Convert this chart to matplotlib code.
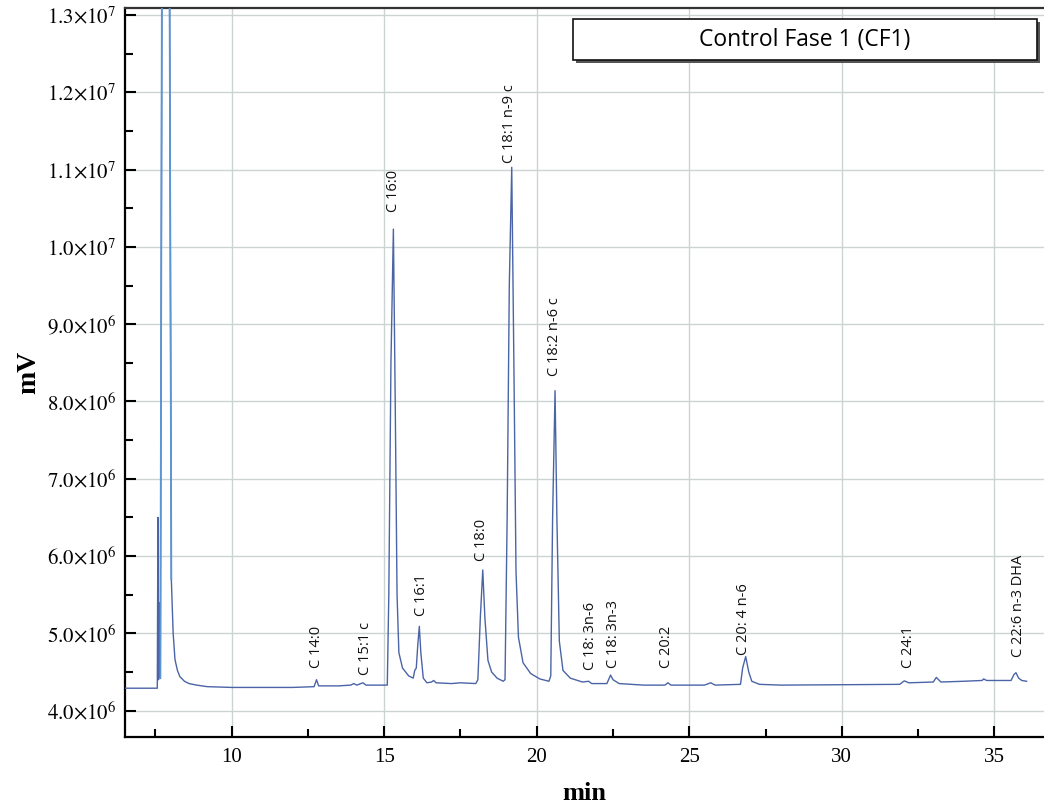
import numpy as np
import matplotlib
matplotlib.use('Agg')
import matplotlib.pyplot as plt
from matplotlib.ticker import FuncFormatter, MultipleLocator
from matplotlib.patches import Rectangle

# chromatogram trace (time in min, signal in 1e6 mV)
t_trace = [6.5, 7.56, 7.58, 7.60, 7.61, 7.63, 7.66, 7.72, 7.95,
           8.02, 8.08, 8.14, 8.22, 8.30, 8.45, 8.60, 8.85, 9.2, 10.0, 12.0,
           12.7, 12.78, 12.85, 13.5, 13.9, 14.0, 14.1, 14.3, 14.4, 15.1,
           15.15, 15.22, 15.30, 15.36, 15.42, 15.48, 15.6, 15.8, 15.95,
           16.0, 16.05, 16.10, 16.15, 16.20, 16.28, 16.4, 16.55, 16.62, 16.7,
           17.2, 17.5, 18.0, 18.07, 18.15, 18.23, 18.30, 18.40, 18.52, 18.7,
           18.9, 18.96, 19.03, 19.10, 19.18, 19.25, 19.32, 19.40, 19.55,
           19.8, 20.1, 20.4, 20.46, 20.52, 20.60, 20.66, 20.74, 20.86, 21.1,
           21.5, 21.7, 21.8, 22.3, 22.42, 22.5, 22.7, 23.5, 24.2, 24.3, 24.4,
           25.5, 25.7, 25.85, 26.68, 26.75, 26.85, 26.95, 27.05, 27.3, 28.0,
           31.9, 32.05, 32.2, 33.0, 33.1, 33.25, 34.0, 34.6, 34.65, 34.75,
           35.55, 35.65, 35.71, 35.8, 35.9, 36.06]
v_trace = [4.29, 4.29, 6.50, 4.40, 5.40, 4.45, 4.42, 15.0, 15.0,
           5.70, 5.00, 4.66, 4.52, 4.44, 4.38, 4.35, 4.33, 4.31, 4.30, 4.30,
           4.31, 4.40, 4.32, 4.32, 4.33, 4.35, 4.33, 4.36, 4.33, 4.33,
           5.50, 8.50, 10.23, 8.00, 5.50, 4.75, 4.55, 4.45, 4.42,
           4.52, 4.55, 4.85, 5.09, 4.75, 4.42, 4.36, 4.37, 4.39, 4.36,
           4.35, 4.36, 4.35, 4.40, 5.20, 5.82, 5.20, 4.65, 4.50, 4.42,
           4.38, 4.40, 6.50, 9.50, 11.03, 8.50, 5.80, 4.95, 4.62,
           4.48, 4.41, 4.38, 4.45, 6.50, 8.14, 6.50, 4.90, 4.52, 4.42,
           4.37, 4.38, 4.35, 4.35, 4.46, 4.40, 4.35, 4.33, 4.33, 4.36, 4.33,
           4.33, 4.36, 4.33, 4.34, 4.55, 4.70, 4.50, 4.38, 4.34, 4.33,
           4.34, 4.385, 4.36, 4.37, 4.43, 4.37, 4.38, 4.39, 4.41, 4.39,
           4.39, 4.47, 4.49, 4.42, 4.39, 4.38]

# solvent peak (lighter blue), runs off the top of the plot
t_solvent = [7.66, 7.72, 7.95, 8.02]
v_solvent = [4.42, 15.0, 15.0, 5.70]

peak_names = ['C 14:0', 'C 15:1 c', 'C 16:0', 'C 16:1', 'C 18:0', 'C 18:1 n-9 c',
              'C 18:2 n-6 c', 'C 18: 3n-6', 'C 18: 3n-3', 'C 20:2', 'C 20: 4 n-6',
              'C 24:1', 'C 22:6 n-3 DHA']
peak_t = [12.78, 14.37, 15.30, 16.23, 18.20, 19.12, 20.58, 21.75, 22.50, 24.26,
          26.77, 32.18, 35.79]
label_v = [4.55, 4.46, 10.45, 5.22, 5.93, 11.08, 8.33, 4.53, 4.55, 4.55, 4.72,
           4.55, 4.70]

y_ticks = [4, 5, 6, 7, 8, 9, 10, 11, 12, 13]


def sci_fmt(v, pos):
    val = v * 1e6
    exp = int(np.floor(np.log10(val)))
    mant = val / 10 ** exp
    return r'$%.1f{\times}10^{%d}$' % (mant, exp)


plt.rcParams['mathtext.fontset'] = 'stix'
plt.rcParams['font.family'] = 'Liberation Serif'

fig = plt.figure(figsize=(10.44, 8.05), dpi=100)
ax = fig.add_axes([0.1197, 0.0845, 0.8803, 0.9055])

ax.plot(t_trace, np.array(v_trace), color='#4a64a6', lw=1.0, zorder=3)
ax.plot(t_solvent, np.array(v_solvent), color='#5a96d4', lw=1.3, zorder=3)

for name, t, v in zip(peak_names, peak_t, label_v):
    ax.text(t, v, name, rotation=90, ha='center', va='bottom', fontsize=10.5,
            family='Open Sans', color='#111111', zorder=4)

ax.set_xlim(6.5, 36.63)
ax.set_ylim(3.659, 13.09)
ax.xaxis.set_major_locator(MultipleLocator(5))
ax.xaxis.set_minor_locator(MultipleLocator(2.5))
ax.set_yticks(y_ticks)
ax.yaxis.set_minor_locator(MultipleLocator(0.5))
ax.yaxis.set_major_formatter(FuncFormatter(sci_fmt))

ax.tick_params(which='major', direction='in', length=8, width=1.5, labelsize=15,
               pad=8)
ax.tick_params(which='minor', direction='in', length=5.5, width=1.5)
ax.tick_params(axis='y', which='both', pad=6)

ax.grid(True, which='major', color='#ccd3d3', lw=1.0, zorder=0)

for side in ['left', 'bottom', 'top']:
    ax.spines[side].set_linewidth(1.6)
ax.spines['top'].set_color('#333333')
ax.spines['right'].set_visible(False)

ax.set_xlabel('min', fontsize=19, fontweight='bold', labelpad=11)
ax.set_ylabel('mV', fontsize=20, fontweight='bold', labelpad=4)

# title box with a small shadow in the top right corner
bx0, by0, bw, bh = 0.4875, 0.9287, 0.505, 0.0563
shadow = Rectangle((bx0 + 0.003, by0 - 0.004), bw, bh, transform=ax.transAxes,
                   facecolor='#555555', edgecolor='none', zorder=5)
box = Rectangle((bx0, by0), bw, bh, transform=ax.transAxes,
                facecolor='white', edgecolor='#111111', lw=1.2, zorder=6)
ax.add_patch(shadow)
ax.add_patch(box)
ax.text(bx0 + bw / 2, by0 + bh / 2, 'Control Fase 1 (CF1)', transform=ax.transAxes,
        ha='center', va='center', fontsize=16.5, family='Open Sans', zorder=7)

fig.savefig('out.png', dpi=100)
